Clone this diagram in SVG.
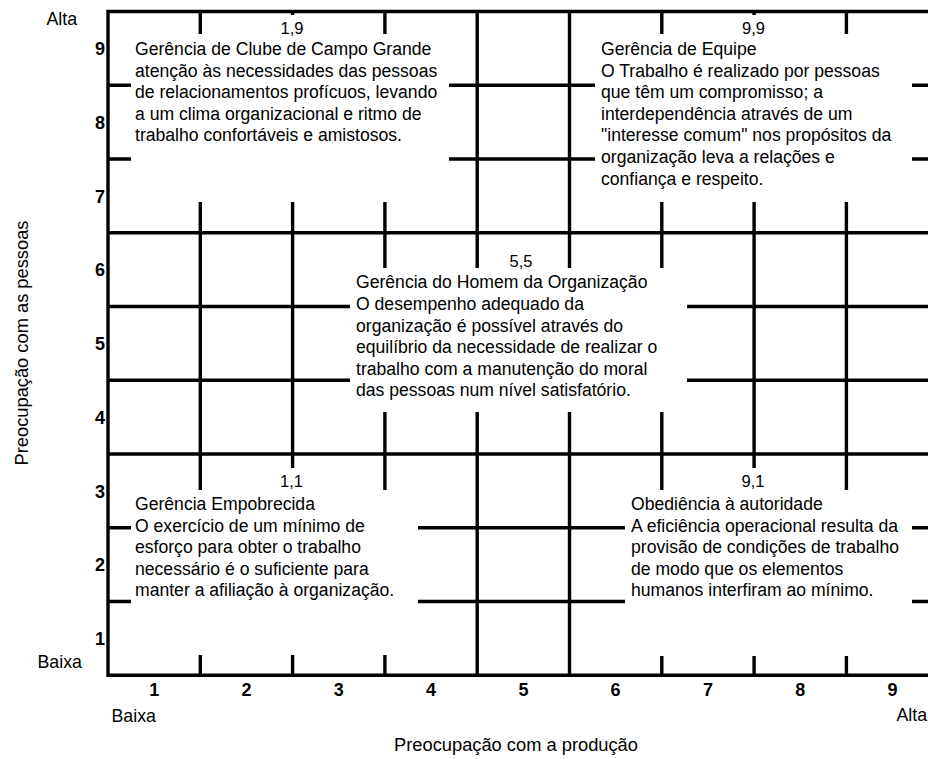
<svg xmlns="http://www.w3.org/2000/svg" width="928" height="759" viewBox="0 0 928 759">
<style>
  .ln { stroke: #000; stroke-width: 3.4; fill: none; }
  .bg { fill: #fff; stroke: none; }
  text { font-family: "Liberation Sans", Arial, Helvetica, sans-serif; fill: #000; }
  .t { font-size: 17.6px; }
  .lbl { font-size: 16.5px; text-anchor: middle; }
  .num { font-size: 18px; font-weight: bold; }
  .ax { font-size: 17.8px; }
  .title { font-size: 18.3px; }
</style>
<rect width="928" height="759" fill="#fff"/>
<g id="grid">
  <path class="ln" stroke-linecap="square" d="M108,675.25 V11.5 H928"/>
  <path class="ln" d="M108,675.25 H928 M108,85.25 H928 M108,159 H928 M108,232.75 H928 M108,306.5 H928 M108,380.25 H928 M108,454 H928 M108,527.75 H928 M108,601.5 H928"/>
  <path class="ln" d="M200.3,11.5 V675.25 M292.6,11.5 V675.25 M384.9,11.5 V675.25 M477.2,11.5 V675.25 M569.5,11.5 V675.25 M661.8,11.5 V675.25 M754.1,11.5 V675.25 M846.4,11.5 V675.25"/>
</g>
<g id="axes">
  <g class="num" text-anchor="end">
    <text x="105" y="55">9</text>
    <text x="105" y="128.7">8</text>
    <text x="105" y="202.5">7</text>
    <text x="105" y="276.2">6</text>
    <text x="105" y="350">5</text>
    <text x="105" y="423.7">4</text>
    <text x="105" y="497.5">3</text>
    <text x="105" y="571.2">2</text>
    <text x="105" y="645">1</text>
  </g>
  <g class="num" text-anchor="middle">
    <text x="154.2" y="695.5">1</text>
    <text x="246.5" y="695.5">2</text>
    <text x="338.8" y="695.5">3</text>
    <text x="431" y="695.5">4</text>
    <text x="523.4" y="695.5">5</text>
    <text x="615.6" y="695.5">6</text>
    <text x="707.9" y="695.5">7</text>
    <text x="800.2" y="695.5">8</text>
    <text x="892.5" y="695.5">9</text>
  </g>
  <text class="ax" x="46.5" y="25">Alta</text>
  <text class="ax" x="37.5" y="668">Baixa</text>
  <text class="ax" x="111.5" y="722">Baixa</text>
  <text class="ax" x="896.5" y="721">Alta</text>
  <text class="title" x="516" y="751" text-anchor="middle">Preocupação com a produção</text>
  <text class="title" x="0" y="0" text-anchor="middle" transform="translate(28,343) rotate(-90)">Preocupação com as pessoas</text>
</g>
<g id="style-1-9">
  <rect class="bg" x="131" y="34" width="318" height="168"/>
  <rect class="bg" x="278" y="15" width="28" height="20"/>
  <text class="lbl" x="292" y="34">1,9</text>
  <text class="t" x="135" y="55">Gerência de Clube de Campo Grande</text>
  <text class="t" x="135" y="76.6">atenção às necessidades das pessoas</text>
  <text class="t" x="135" y="98.2">de relacionamentos profícuos, levando</text>
  <text class="t" x="135" y="119.8">a um clima organizacional e ritmo de</text>
  <text class="t" x="135" y="141.4">trabalho confortáveis e amistosos.</text>
</g>
<g id="style-9-9">
  <rect class="bg" x="595" y="34" width="317" height="168"/>
  <rect class="bg" x="739" y="15" width="29" height="20"/>
  <text class="lbl" x="753.5" y="34">9,9</text>
  <text class="t" x="601" y="55">Gerência de Equipe</text>
  <text class="t" x="601" y="76.6">O Trabalho é realizado por pessoas</text>
  <text class="t" x="601" y="98.2">que têm um compromisso; a</text>
  <text class="t" x="601" y="119.8">interdependência através de um</text>
  <text class="t" x="601" y="141.4">"interesse comum" nos propósitos da</text>
  <text class="t" x="601" y="163">organização leva a relações e</text>
  <text class="t" x="601" y="184.6">confiança e respeito.</text>
</g>
<g id="style-5-5">
  <rect class="bg" x="350" y="268" width="337" height="144"/>
  <text class="lbl" x="521" y="266.5">5,5</text>
  <text class="t" x="356" y="288.3">Gerência do Homem da Organização</text>
  <text class="t" x="356" y="309.9">O desempenho adequado da</text>
  <text class="t" x="356" y="331.5">organização é possível através do</text>
  <text class="t" x="356" y="353.1">equilíbrio da necessidade de realizar o</text>
  <text class="t" x="356" y="374.7">trabalho com a manutenção do moral</text>
  <text class="t" x="356" y="396.3">das pessoas num nível satisfatório.</text>
</g>
<g id="style-1-1">
  <rect class="bg" x="131" y="490" width="287" height="165"/>
  <rect class="bg" x="278" y="468" width="28" height="22"/>
  <text class="lbl" x="291.5" y="487">1,1</text>
  <text class="t" x="135" y="510">Gerência Empobrecida</text>
  <text class="t" x="135" y="531.6">O exercício de um mínimo de</text>
  <text class="t" x="135" y="553.2">esforço para obter o trabalho</text>
  <text class="t" x="135" y="574.8">necessário é o suficiente para</text>
  <text class="t" x="135" y="596.4">manter a afiliação à organização.</text>
</g>
<g id="style-9-1">
  <rect class="bg" x="625" y="490" width="287" height="166"/>
  <rect class="bg" x="739" y="468" width="29" height="22"/>
  <text class="lbl" x="753" y="487">9,1</text>
  <text class="t" x="631" y="510">Obediência à autoridade</text>
  <text class="t" x="631" y="531.6">A eficiência operacional resulta da</text>
  <text class="t" x="631" y="553.2">provisão de condições de trabalho</text>
  <text class="t" x="631" y="574.8">de modo que os elementos</text>
  <text class="t" x="631" y="596.4">humanos interfiram ao mínimo.</text>
</g>
</svg>
